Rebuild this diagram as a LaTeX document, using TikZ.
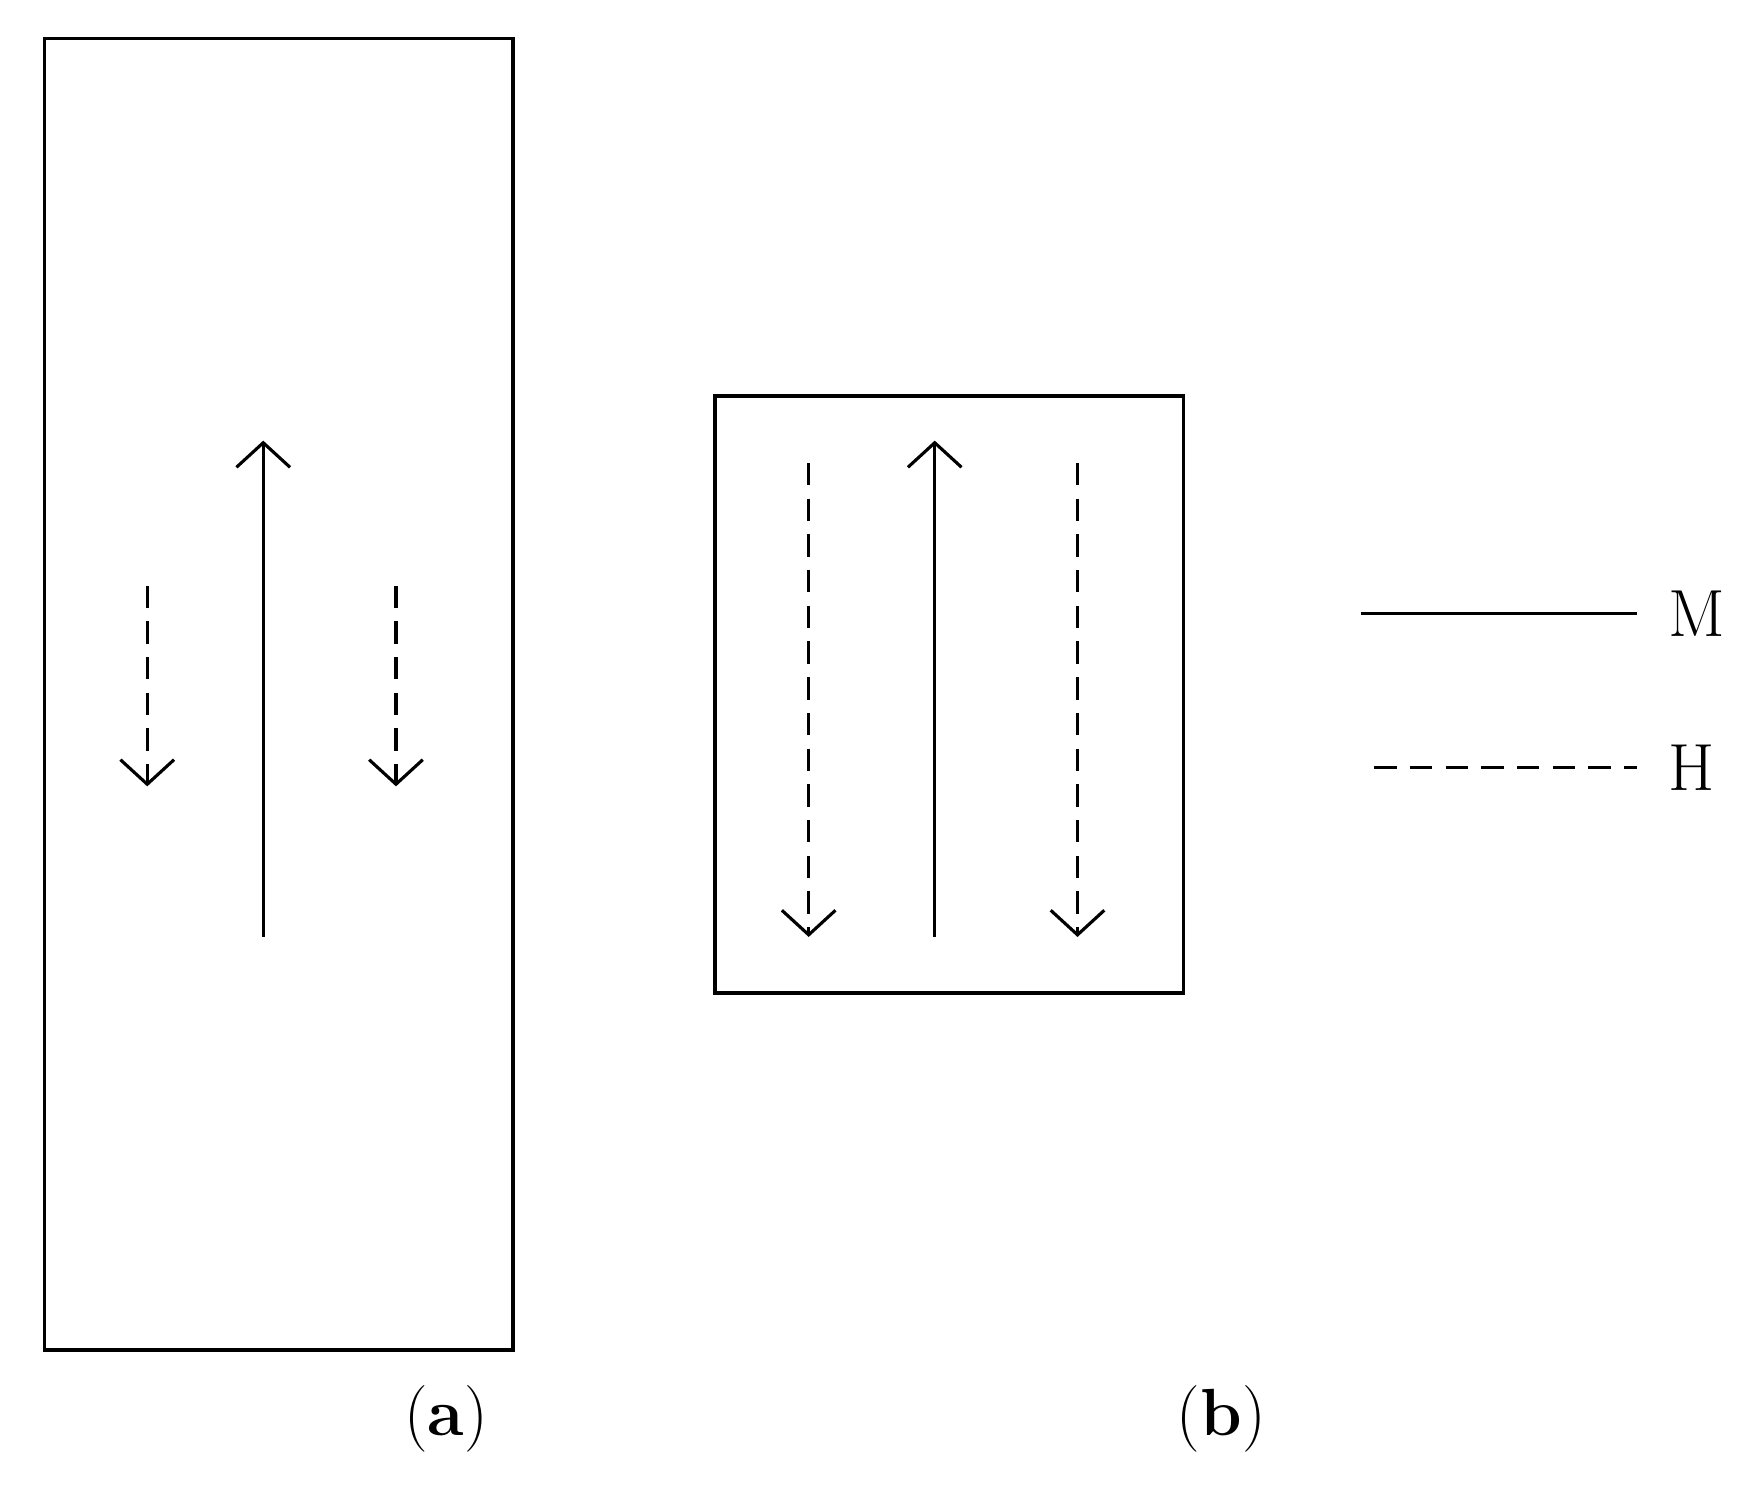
\documentclass[tikz,border=0pt]{standalone}
\usetikzlibrary{arrows.meta}
\begin{document}
\begin{tikzpicture}[x=0.01cm,y=-0.01cm,
  box/.style={draw,line width=0.9pt},
  arr/.style={line width=0.8pt,-{Straight Barb[length=0.22cm,width=0.48cm,line width=0.8pt]}},
  dsh/.style={dash pattern=on 0.2cm off 0.12cm},
  lbl/.style={font=\fontsize{17}{20}\selectfont}]
\useasboundingbox (0,0) rectangle (1568,1348);
% (a)
\node[box,minimum width=4.2cm,minimum height=11.75cm,inner sep=0] (ra) at (250,622.5) {};
\coordinate (a1s) at (236,840); \coordinate (a1e) at (236,395);
\coordinate (a2s) at (132,525); \coordinate (a2e) at (132,705);
\coordinate (a3s) at (355,525); \coordinate (a3e) at (355,705);
\draw[arr] (a1s) -- (a1e);
\draw[arr,dsh] (a2s) -- (a2e);
\draw[arr,dsh] (a3s) -- (a3e);
\node[lbl] (la) at (400,1272) {(\textbf{a})};
% (b)
\node[box,minimum width=4.2cm,minimum height=5.35cm,inner sep=0] (rb) at (851,622.5) {};
\coordinate (b1s) at (838,840); \coordinate (b1e) at (838,395);
\coordinate (b2s) at (725,415); \coordinate (b2e) at (725,840);
\coordinate (b3s) at (966,415); \coordinate (b3e) at (966,840);
\draw[arr] (b1s) -- (b1e);
\draw[arr,dsh] (b2s) -- (b2e);
\draw[arr,dsh] (b3s) -- (b3e);
\node[lbl] (lb) at (1095,1272) {(\textbf{b})};
% legend
\node[lbl,anchor=west,inner sep=0] (M) at (1495,550) {M};
\node[lbl,anchor=west,inner sep=0] (H) at (1495,688) {H};
\coordinate (m0) at (1220,550); \coordinate (h0) at (1232,688);
\draw[line width=0.8pt] (m0) -- (1468,550);
\draw[line width=0.8pt,dsh] (h0) -- (1468,688);
\end{tikzpicture}
\end{document}
